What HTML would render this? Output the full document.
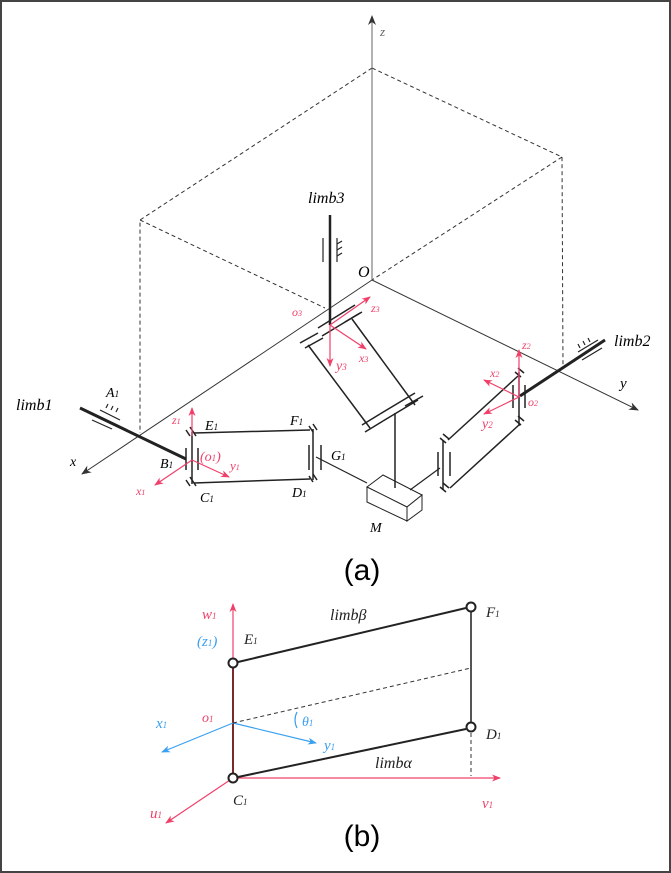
<!DOCTYPE html>
<html><head><meta charset="utf-8"><style>
html,body{margin:0;padding:0;background:#fff}
svg{display:block}
text{font-family:"Liberation Serif",serif;font-style:italic}
</style></head><body>
<svg width="671" height="873" viewBox="0 0 671 873" xmlns="http://www.w3.org/2000/svg">
<defs>
<marker id="ak" markerWidth="10" markerHeight="8" refX="9" refY="4" orient="auto" markerUnits="userSpaceOnUse"><path d="M0,0 L10,4 L0,8 L3,4z" fill="#333"/></marker>
<marker id="ar" markerWidth="9" markerHeight="7" refX="8" refY="3.5" orient="auto" markerUnits="userSpaceOnUse"><path d="M0,0 L9,3.5 L0,7 L2.5,3.5z" fill="#f0406a"/></marker>
<marker id="ab" markerWidth="9" markerHeight="7" refX="8" refY="3.5" orient="auto" markerUnits="userSpaceOnUse"><path d="M0,0 L9,3.5 L0,7 L2.5,3.5z" fill="#3aa0f0"/></marker>
</defs>
<rect x="1" y="1" width="669" height="871" fill="#fff" stroke="#444" stroke-width="2"/>

<g stroke="#333" stroke-width="1" stroke-dasharray="4,3" fill="none">
<path d="M372,68 L140,220 L140,433"/>
<path d="M372,68 L562,157 L563,368"/>
<path d="M140,220 L325,308"/>
<path d="M562,157 L372,280"/>
</g>
<g stroke="#333" stroke-width="1" fill="none">
<line x1="372" y1="280" x2="372" y2="16" stroke="#666" marker-end="url(#ak)"/>
<line x1="372" y1="280" x2="82" y2="474" marker-end="url(#ak)"/>
<line x1="372" y1="280" x2="638" y2="410" marker-end="url(#ak)"/>
</g>
<text x="380" y="36" font-size="13" fill="#666">z</text>
<text x="358" y="277" font-size="16">O</text>
<text x="70" y="466" font-size="14">x</text>
<text x="620" y="388" font-size="15">y</text>

<line x1="80" y1="408" x2="186" y2="459" stroke="#222" stroke-width="3"/>
<g stroke="#222" stroke-width="1.2">
<line x1="100" y1="410" x2="120" y2="420"/><line x1="92" y1="420" x2="112" y2="429"/>
<line x1="106" y1="408" x2="108" y2="404"/><line x1="111" y1="410" x2="113" y2="406"/><line x1="116" y1="412" x2="118" y2="408"/>
</g>
<text x="16" y="410" font-size="16">limb1</text>
<text x="106" y="397" font-size="14">A<tspan font-size="9">1</tspan></text>

<g stroke="#222" stroke-width="1.5" fill="none">
<line x1="194" y1="433" x2="310" y2="430"/>
<line x1="194" y1="483" x2="310" y2="479"/>
<line x1="192" y1="432" x2="192" y2="484"/>
<line x1="313" y1="429" x2="313" y2="480"/>
<line x1="186" y1="448" x2="186" y2="470"/><line x1="198" y1="448" x2="198" y2="470"/>
<line x1="309" y1="445" x2="309" y2="470"/><line x1="321" y1="445" x2="321" y2="470"/>
<line x1="186" y1="430" x2="190" y2="436"/><line x1="190" y1="427" x2="196" y2="436"/>
<line x1="186" y1="480" x2="190" y2="486"/><line x1="190" y1="477" x2="196" y2="486"/>
<line x1="309" y1="426" x2="313" y2="432"/><line x1="313" y1="424" x2="317" y2="430"/>
<line x1="309" y1="476" x2="313" y2="482"/><line x1="313" y1="474" x2="317" y2="480"/>
<line x1="316" y1="457" x2="367" y2="483" stroke-width="1.2"/>
</g>
<text x="205" y="430" font-size="14">E<tspan font-size="9">1</tspan></text>
<text x="290" y="425" font-size="14">F<tspan font-size="9">1</tspan></text>
<text x="160" y="468" font-size="14">B<tspan font-size="9">1</tspan></text>
<text x="200" y="502" font-size="14">C<tspan font-size="9">1</tspan></text>
<text x="292" y="497" font-size="14">D<tspan font-size="9">1</tspan></text>
<text x="331" y="460" font-size="14">G<tspan font-size="9">1</tspan></text>

<g stroke="#f0406a" stroke-width="1.2" fill="none">
<line x1="192" y1="436" x2="192" y2="408" marker-end="url(#ar)"/>
<line x1="192" y1="460" x2="155" y2="485" marker-end="url(#ar)"/>
<line x1="192" y1="460" x2="229" y2="477" marker-end="url(#ar)"/>
</g>
<g fill="#f0406a">
<text x="172" y="424" font-size="12">z<tspan font-size="8">1</tspan></text>
<text x="200" y="461" font-size="14">(o<tspan font-size="9">1</tspan>)</text>
<text x="230" y="470" font-size="13">y<tspan font-size="8">1</tspan></text>
<text x="136" y="495" font-size="12">x<tspan font-size="8">1</tspan></text>
</g>

<g stroke="#222" stroke-width="1" fill="#fff">
<path d="M367,487 L383,475 L422,495 L407,507 Z"/>
<path d="M367,487 L367,502 L407,521 L407,507 Z"/>
<path d="M407,507 L422,495 L422,510 L407,521 Z"/>
</g>
<text x="370" y="532" font-size="14">M</text>
<line x1="395" y1="488" x2="395" y2="413" stroke="#222" stroke-width="1.5"/>
<line x1="410" y1="490" x2="440" y2="468" stroke="#222" stroke-width="1.2"/>

<line x1="330" y1="215" x2="330" y2="325" stroke="#222" stroke-width="2.5"/>
<g stroke="#222" stroke-width="1.2">
<line x1="323" y1="238" x2="323" y2="262"/><line x1="337" y1="238" x2="337" y2="262"/>
<line x1="337" y1="244" x2="342" y2="241"/><line x1="337" y1="250" x2="342" y2="247"/><line x1="337" y1="256" x2="342" y2="253"/>
</g>
<text x="308" y="203" font-size="16">limb3</text>

<g stroke="#222" stroke-width="1.5" fill="none">
<line x1="308" y1="345" x2="370" y2="428"/>
<line x1="352" y1="319" x2="415" y2="405"/>
<line x1="300" y1="343" x2="318" y2="333"/><line x1="305" y1="348" x2="323" y2="338"/>
<line x1="318" y1="328" x2="355" y2="305"/><line x1="322" y1="336" x2="360" y2="313"/>
<line x1="345" y1="322" x2="362" y2="312"/>
<line x1="362" y1="425" x2="380" y2="414"/><line x1="365" y1="432" x2="383" y2="421"/>
<line x1="380" y1="414" x2="415" y2="393"/><line x1="383" y1="421" x2="418" y2="400"/>
<line x1="405" y1="406" x2="423" y2="396"/>
</g>
<g stroke="#f0406a" stroke-width="1.2" fill="none">
<line x1="330" y1="325" x2="370" y2="297" marker-end="url(#ar)"/>
<line x1="330" y1="325" x2="366" y2="349" marker-end="url(#ar)"/>
<line x1="330" y1="325" x2="330" y2="366" marker-end="url(#ar)"/>
</g>
<g fill="#f0406a">
<text x="292" y="316" font-size="12">o<tspan font-size="8">3</tspan></text>
<text x="371" y="312" font-size="12">z<tspan font-size="8">3</tspan></text>
<text x="359" y="362" font-size="12">x<tspan font-size="8">3</tspan></text>
<text x="336" y="370" font-size="14">y<tspan font-size="9">3</tspan></text>
</g>

<line x1="520" y1="396" x2="605" y2="340" stroke="#222" stroke-width="3"/>
<g stroke="#222" stroke-width="1.2">
<line x1="578" y1="352" x2="598" y2="340"/><line x1="582" y1="360" x2="602" y2="348"/>
<line x1="580" y1="348" x2="578" y2="344"/><line x1="585" y1="345" x2="583" y2="341"/><line x1="590" y1="342" x2="588" y2="338"/>
</g>
<text x="614" y="346" font-size="16">limb2</text>

<g stroke="#222" stroke-width="1.5" fill="none">
<line x1="518" y1="376" x2="448" y2="440"/>
<line x1="520" y1="424" x2="450" y2="488"/>
<line x1="519" y1="372" x2="519" y2="426"/>
<line x1="513" y1="385" x2="513" y2="408"/><line x1="525" y1="385" x2="525" y2="408"/>
<line x1="443" y1="440" x2="443" y2="490"/>
<line x1="438" y1="452" x2="438" y2="476"/><line x1="450" y1="452" x2="450" y2="476"/>
<line x1="515" y1="372" x2="521" y2="377"/><line x1="518" y1="368" x2="524" y2="373"/>
<line x1="515" y1="420" x2="521" y2="425"/><line x1="518" y1="416" x2="524" y2="421"/>
<line x1="440" y1="438" x2="446" y2="443"/><line x1="443" y1="434" x2="449" y2="439"/>
<line x1="440" y1="487" x2="446" y2="492"/><line x1="443" y1="483" x2="449" y2="488"/>
</g>
<g stroke="#f0406a" stroke-width="1.2" fill="none">
<line x1="519" y1="397" x2="519" y2="350" marker-end="url(#ar)"/>
<line x1="519" y1="397" x2="484" y2="380" marker-end="url(#ar)"/>
<line x1="519" y1="397" x2="484" y2="414" marker-end="url(#ar)"/>
</g>
<g fill="#f0406a">
<text x="522" y="349" font-size="12">z<tspan font-size="8">2</tspan></text>
<text x="490" y="377" font-size="12">x<tspan font-size="8">2</tspan></text>
<text x="482" y="428" font-size="14">y<tspan font-size="9">2</tspan></text>
<text x="528" y="406" font-size="12">o<tspan font-size="8">2</tspan></text>
</g>

<text x="362" y="580" font-size="30" style="font-family:'Liberation Sans',sans-serif;font-style:normal" text-anchor="middle">(a)</text>

<g fill="none">
<line x1="233" y1="778" x2="233" y2="604" stroke="#f0406a" stroke-width="1.2" marker-end="url(#ar)"/>
<line x1="233" y1="668" x2="233" y2="773" stroke="#7a2a2a" stroke-width="2"/>
<line x1="238" y1="778" x2="500" y2="778" stroke="#f0406a" stroke-width="1.2" marker-end="url(#ar)"/>
<line x1="233" y1="778" x2="166" y2="823" stroke="#f0406a" stroke-width="1.2" marker-end="url(#ar)"/>
<line x1="233" y1="723" x2="162" y2="752" stroke="#3aa0f0" stroke-width="1.2" marker-end="url(#ab)"/>
<line x1="233" y1="723" x2="316" y2="743" stroke="#3aa0f0" stroke-width="1.2" marker-end="url(#ab)"/>
<path d="M297,712 Q293,720 297,728" stroke="#3aa0f0" stroke-width="1.2"/>
<line x1="233" y1="723" x2="471" y2="668" stroke="#333" stroke-width="1" stroke-dasharray="4,3"/>
<line x1="471" y1="733" x2="471" y2="776" stroke="#333" stroke-width="1" stroke-dasharray="4,3"/>
<line x1="238" y1="662" x2="466" y2="608" stroke="#222" stroke-width="2"/>
<line x1="238" y1="777" x2="466" y2="729" stroke="#222" stroke-width="2"/>
<line x1="471" y1="612" x2="471" y2="723" stroke="#555" stroke-width="2"/>
<circle cx="233" cy="663" r="4.5" stroke="#222" stroke-width="2" fill="#fff"/>
<circle cx="233" cy="778" r="4.5" stroke="#222" stroke-width="2" fill="#fff"/>
<circle cx="471" cy="607" r="4.5" stroke="#222" stroke-width="2" fill="#fff"/>
<circle cx="471" cy="727" r="4.5" stroke="#222" stroke-width="2" fill="#fff"/>
</g>
<g fill="#f0406a">
<text x="202" y="619" font-size="15">w<tspan font-size="9">1</tspan></text>
<text x="202" y="722" font-size="14">o<tspan font-size="9">1</tspan></text>
<text x="482" y="808" font-size="15">v<tspan font-size="9">1</tspan></text>
<text x="150" y="818" font-size="15">u<tspan font-size="9">1</tspan></text>
</g>
<g fill="#3aa0f0">
<text x="197" y="646" font-size="15">(z<tspan font-size="9">1</tspan>)</text>
<text x="156" y="728" font-size="15">x<tspan font-size="9">1</tspan></text>
<text x="324" y="750" font-size="15">y<tspan font-size="9">1</tspan></text>
<text x="302" y="726" font-size="14">θ<tspan font-size="9">1</tspan></text>
</g>
<g fill="#222">
<text x="244" y="644" font-size="15">E<tspan font-size="9">1</tspan></text>
<text x="330" y="620" font-size="16">limbβ</text>
<text x="486" y="617" font-size="15">F<tspan font-size="9">1</tspan></text>
<text x="486" y="739" font-size="15">D<tspan font-size="9">1</tspan></text>
<text x="375" y="768" font-size="16">limbα</text>
<text x="233" y="805" font-size="15">C<tspan font-size="9">1</tspan></text>
</g>
<text x="362" y="846" font-size="30" style="font-family:'Liberation Sans',sans-serif;font-style:normal" text-anchor="middle">(b)</text>
</svg>
</body></html>
